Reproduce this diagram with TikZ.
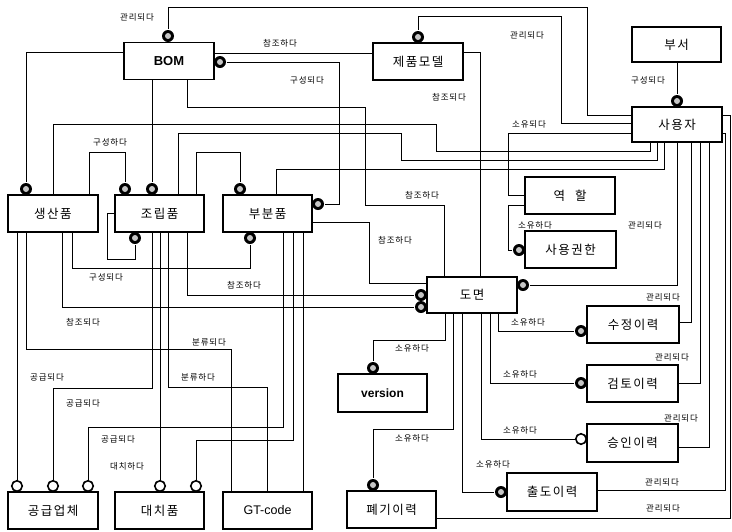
\documentclass[tikz,border=0pt]{standalone}
\usepackage{fontspec}
\setmainfont{Noto Sans CJK KR}
\newfontfamily\lat{Liberation Sans}
\newfontfamily\korbox[LetterSpace=12]{Noto Sans CJK KR}
\newfontfamily\korlbl[LetterSpace=10]{Noto Sans CJK KR}
\pgfdeclarelayer{bg}
\pgfsetlayers{bg,main}
\begin{document}
\begin{tikzpicture}[x=1pt,y=-1pt,line width=1.6pt,
  ent/.style={draw,fill=white,line width=1.8pt,minimum width=90pt,minimum height=37pt,inner sep=0pt,font=\korbox\fontsize{12.5}{14}\selectfont},
  dotc/.style={circle,fill=black,minimum size=12pt,inner sep=0pt,
    path picture={\fill[gray!45] (path picture bounding box.center) circle (3pt);}},
  opc/.style={circle,draw,fill=white,line width=1.6pt,minimum size=10.5pt,inner sep=0pt},
  lbl/.style={font=\korlbl\fontsize{8.5}{9}\selectfont,inner sep=1pt}]
\useasboundingbox (0,0) rectangle (732,531);
% entities
\node[ent] (bom) at (169,61) {\lat\bfseries\fontsize{13}{14}\selectfont BOM};
\node[ent] (prod) at (418,61.5) {제품모델};
\node[ent,minimum width=89pt,minimum height=35pt] (dept) at (676.5,44.5) {부서};
\node[ent,minimum height=35pt] (user) at (677,124.5) {사용자};
\node[ent] (sp) at (53,213.5) {생산품};
\node[ent,minimum width=89pt] (asm) at (159.5,213.5) {조립품};
\node[ent,minimum width=89pt] (part) at (267.5,213.5) {부분품};
\node[ent] (role) at (570,195.5) {역\hspace{10pt}할};
\node[ent,minimum width=91pt] (perm) at (570.5,249.5) {사용권한};
\node[ent,minimum height=36pt] (dwg) at (472,295) {도면};
\node[ent,minimum width=92pt] (mod) at (633,324.5) {수정이력};
\node[ent,minimum width=89pt,minimum height=38pt] (ver) at (382.5,393) {\lat\bfseries\fontsize{12}{14}\selectfont version};
\node[ent,minimum width=91pt] (rev) at (632.5,383.5) {검토이력};
\node[ent,minimum width=91pt,minimum height=38pt] (app) at (632.5,443) {승인이력};
\node[ent,minimum height=38pt] (out) at (552,492) {출도이력};
\node[ent,minimum width=89pt] (dis) at (391.5,509.5) {폐기이력};
\node[ent] (sup) at (53,510.5) {공급업체};
\node[ent,minimum width=89pt] (alt) at (159.5,510.5) {대치품};
\node[ent,minimum width=89pt] (gt) at (267.5,510.5) {\lat\fontsize{12.5}{14}\selectfont GT-code};
% circles
\node[dotc] (cbomtop) at (168,36) {};
\node[dotc] (cprodtop) at (418,37) {};
\node[dotc] (cbomright) at (220,62) {};
\node[dotc] (cdept) at (677,101) {};
\node[dotc] (cs1) at (26,189) {};
\node[dotc] (ca1) at (125,189) {};
\node[dotc] (ca2) at (152,189) {};
\node[dotc] (cp1) at (240,189) {};
\node[dotc] (cpr) at (318,204) {};
\node[dotc] (cab) at (135,238) {};
\node[dotc] (cpb) at (250,238) {};
\node[dotc] (cperm) at (519,250) {};
\node[dotc] (cd1) at (421,295) {};
\node[dotc] (cd2) at (421,307) {};
\node[dotc] (cdr) at (523,285) {};
\node[dotc] (cmod) at (581,331) {};
\node[dotc] (crev) at (581,383) {};
\node[opc] (oapp) at (581,439) {};
\node[dotc] (cver) at (373,368) {};
\node[dotc] (cout) at (501,492) {};
\node[dotc] (cdis) at (373,485) {};
\node[opc] (os1) at (17,486) {};
\node[opc] (os2) at (53,486) {};
\node[opc] (os3) at (88,486) {};
\node[opc] (or1) at (160,486) {};
\node[opc] (or2) at (196,486) {};
% connectors
\begin{pgfonlayer}{bg}
\draw (cbomtop) -- (168,7) -- (587,7) -- (587,115) -- (user.west |- 0,115);
\draw (cprodtop) -- (418,16) -- (561,16) -- (561,123) -- (user.west |- 0,123);
\draw (bom.east |- 0,53) -- (prod.west |- 0,53);
\draw (cbomright) -- (339,62) -- (339,204) -- (cpr);
\draw (bom.south -| 187,0) -- (187,107) -- (365,107) -- (365,205) -- (444,205) -- (dwg.north -| 444,0);
\draw (prod.east |- 0,52) -- (480,52) -- (dwg.north -| 480,0);
\draw (sp.north -| 53,0) -- (53,124) -- (436,124) -- (436,151) -- (650,151) -- (user.south -| 650,0);
\draw (asm.north -| 178,0) -- (178,133) -- (401,133) -- (401,160) -- (657,160) -- (user.south -| 657,0);
\draw (part.north -| 276,0) -- (276,169) -- (664,169) -- (user.south -| 664,0);
\draw (sp.north -| 89,0) -- (89,152) -- (125,152) -- (ca1);
\draw (asm.north -| 196,0) -- (196,152) -- (240,152) -- (cp1);
\draw (bom.west |- 0,52) -- (26,52) -- (cs1);
\draw (bom.south -| 152,0) -- (ca2);
\draw (user.west |- 0,133) -- (508,133) -- (508,195) -- (role.west |- 0,195);
\draw (role.west |- 0,205) -- (508,205) -- (508,250) -- (cperm);
\draw (user.south -| 677,0) -- (677,285) -- (cdr);
\draw (part.east |- 0,222) -- (369,222) -- (369,283) -- (dwg.west |- 0,283);
\draw (asm.south -| 187,0) -- (187,295) -- (cd1);
\draw (sp.south -| 62,0) -- (62,307) -- (cd2);
\draw (sp.south -| 72,0) -- (72,268) -- (250,268) -- (cpb);
\draw (asm.west |- 0,213) -- (107,213) -- (107,259) -- (135,259) -- (cab);
\draw (sp.south -| 17,0) -- (os1);
\draw (sp.south -| 26,0) -- (26,349) -- (231,349) -- (gt.north -| 231,0);
\draw (asm.south -| 168,0) -- (168,387) -- (267,387) -- (gt.north -| 267,0);
\draw (asm.south -| 152,0) -- (152,388) -- (53,388) -- (os2);
\draw (asm.south -| 160,0) -- (or1);
\draw (part.south -| 283,0) -- (283,427) -- (88,427) -- (os3);
\draw (part.south -| 293,0) -- (293,440) -- (196,440) -- (or2);
\draw (part.south -| 303,0) -- (gt.north -| 303,0);
\draw (dwg.south -| 445,0) -- (445,340) -- (373,340) -- (cver);
\draw (dwg.south -| 453,0) -- (453,429) -- (373,429) -- (cdis);
\draw (dwg.south -| 462,0) -- (462,492) -- (cout);
\draw (dwg.south -| 481,0) -- (481,439) -- (oapp);
\draw (dwg.south -| 490,0) -- (490,383) -- (crev);
\draw (dwg.south -| 498,0) -- (498,331) -- (cmod);
\draw (mod.east |- 0,322) -- (691,322) -- (user.south -| 691,0);
\draw (rev.east |- 0,383) -- (700,383) -- (user.south -| 700,0);
\draw (app.east |- 0,447) -- (709,447) -- (user.south -| 709,0);
\draw (out.east |- 0,490) -- (725,490) -- (725,133) -- (user.east |- 0,133);
\draw (dis.east |- 0,518) -- (730,518) -- (730,115) -- (user.east |- 0,115);
\draw (dept.south -| 677,0) -- (cdept);
\end{pgfonlayer}
% labels
\node[lbl] (l1) at (137,17) {관리되다};
\node[lbl] (l2) at (527,35) {관리되다};
\node[lbl] (l3) at (280,43) {참조하다};
\node[lbl] (l4) at (307,80) {구성되다};
\node[lbl] (l5) at (449,97) {참조되다};
\node[lbl] (l6) at (648,80) {구성되다};
\node[lbl] (l7) at (529,124) {소유되다};
\node[lbl] (l8) at (110,142) {구성하다};
\node[lbl] (l9) at (422,195) {참조하다};
\node[lbl] (l10) at (645,225) {관리되다};
\node[lbl] (l11) at (535,225) {소유하다};
\node[lbl] (l12) at (395,240) {참조하다};
\node[lbl] (l13) at (106,277) {구성되다};
\node[lbl] (l14) at (244,285) {참조하다};
\node[lbl] (l15) at (663,297) {관리되다};
\node[lbl] (l16) at (528,322) {소유하다};
\node[lbl] (l17) at (83,322) {참조되다};
\node[lbl] (l18) at (209,342) {분류되다};
\node[lbl] (l19) at (412,348) {소유하다};
\node[lbl] (l20) at (672,357) {관리되다};
\node[lbl] (l21) at (520,374) {소유하다};
\node[lbl] (l22) at (47,377) {공급되다};
\node[lbl] (l23) at (198,377) {분류하다};
\node[lbl] (l24) at (83,403) {공급되다};
\node[lbl] (l25) at (681,418) {관리되다};
\node[lbl] (l26) at (520,430) {소유하다};
\node[lbl] (l27) at (412,438) {소유하다};
\node[lbl] (l28) at (118,439) {공급되다};
\node[lbl] (l29) at (493,464) {소유하다};
\node[lbl] (l30) at (127,466) {대치하다};
\node[lbl] (l31) at (662,482) {관리되다};
\node[lbl] (l32) at (663,508) {관리되다};
\end{tikzpicture}
\end{document}
